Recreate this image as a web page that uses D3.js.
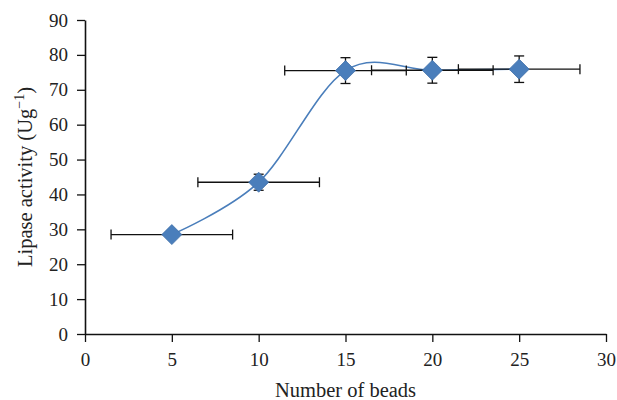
<!DOCTYPE html>
<html>
<head>
<meta charset="utf-8">
<script src="https://cdn.jsdelivr.net/npm/d3@7"></script>
<style>
  body { margin: 0; background: #fff; }
  text { font-family: "Liberation Serif", "DejaVu Serif", serif; fill: #222; }
</style>
</head>
<body>
<svg id="chart" width="617" height="400"></svg>
<script>
// data
const beads = [5, 10, 15, 20, 25];
const activity = [28.5, 43.5, 75.5, 75.6, 75.9];
const yErr = [1.0, 2.3, 3.7, 3.7, 3.8];
const xErr = [3.5, 3.5, 3.5, 3.5, 3.5];
const xTicks = [0, 5, 10, 15, 20, 25, 30];
const yTicks = [0, 10, 20, 30, 40, 50, 60, 70, 80, 90];

const data = beads.map((b, i) => ({ x: b, y: activity[i], ex: xErr[i], ey: yErr[i] }));

const margin = { top: 20, right: 11, bottom: 66, left: 85 };
const width = 617, height = 400;
const chartWidth = width - margin.left - margin.right;
const chartHeight = height - margin.top - margin.bottom;

const svg = d3.select('#chart')
    .append('g')
    .attr('transform', `translate(${margin.left}, ${margin.top})`);

const xScale = d3.scaleLinear().domain([0, 30]).range([0, chartWidth]);
const yScale = d3.scaleLinear().domain([0, 90]).range([chartHeight, 0]);

// axes
const xAxis = svg.append('g')
    .attr('transform', `translate(0, ${chartHeight})`)
    .call(d3.axisBottom(xScale).tickValues(xTicks).tickSize(8).tickPadding(11).tickSizeOuter(0));
const yAxis = svg.append('g')
    .call(d3.axisLeft(yScale).tickValues(yTicks).tickSize(8).tickPadding(9).tickSizeOuter(0));

[xAxis, yAxis].forEach(a => {
    a.select('.domain').attr('stroke', '#111').attr('stroke-width', 1.6);
    a.selectAll('.tick line').attr('stroke', '#111').attr('stroke-width', 1.3);
    a.selectAll('.tick text')
        .style('font-family', '"Liberation Serif", "DejaVu Serif", serif')
        .style('font-size', '19px')
        .attr('fill', '#222');
});

// horizontal error bars
const errG = svg.append('g').attr('stroke', '#111').attr('stroke-width', 1.3).attr('fill', 'none');
data.forEach(d => {
    const y = yScale(d.y);
    const x0 = xScale(d.x - d.ex), x1 = xScale(d.x + d.ex);
    errG.append('line').attr('x1', x0).attr('x2', x1).attr('y1', y).attr('y2', y);
    errG.append('line').attr('x1', x0).attr('x2', x0).attr('y1', y - 5).attr('y2', y + 5);
    errG.append('line').attr('x1', x1).attr('x2', x1).attr('y1', y - 5).attr('y2', y + 5);
});

// smooth line
const line = d3.line()
    .x(d => xScale(d.x))
    .y(d => yScale(d.y))
    .curve(d3.curveCardinal.tension(0));

svg.append('path')
    .datum(data)
    .attr('d', line)
    .attr('fill', 'none')
    .attr('stroke', '#4a7ebb')
    .attr('stroke-width', 1.6);

// vertical error bars
data.forEach(d => {
    const x = xScale(d.x);
    const y0 = yScale(d.y - d.ey), y1 = yScale(d.y + d.ey);
    errG.append('line').attr('x1', x).attr('x2', x).attr('y1', y0).attr('y2', y1);
    errG.append('line').attr('x1', x - 5).attr('x2', x + 5).attr('y1', y0).attr('y2', y0);
    errG.append('line').attr('x1', x - 5).attr('x2', x + 5).attr('y1', y1).attr('y2', y1);
});
errG.raise();

// diamond markers
svg.selectAll('path.marker')
    .data(data)
    .enter()
    .append('path')
    .attr('class', 'marker')
    .attr('d', 'M0,-10L10,0L0,10L-10,0Z')
    .attr('transform', d => `translate(${xScale(d.x)}, ${yScale(d.y)})`)
    .style('fill', '#4a7ebb')
    .style('stroke', '#3f6fa8')
    .style('stroke-width', 0.8);

// axis titles
svg.append('text')
    .attr('x', chartWidth / 2)
    .attr('y', chartHeight + 63)
    .style('text-anchor', 'middle')
    .style('font-size', '20.5px')
    .text('Number of beads');

const yLabel = svg.append('text')
    .attr('transform', 'rotate(-90)')
    .attr('x', -157)
    .attr('y', -53)
    .style('text-anchor', 'middle')
    .style('font-size', '20.5px');
yLabel.append('tspan').text('Lipase activity (Ug');
yLabel.append('tspan').attr('dy', -8).style('font-size', '14px').text('−1');
yLabel.append('tspan').attr('dy', 8).text(')');
</script>
</body>
</html>
